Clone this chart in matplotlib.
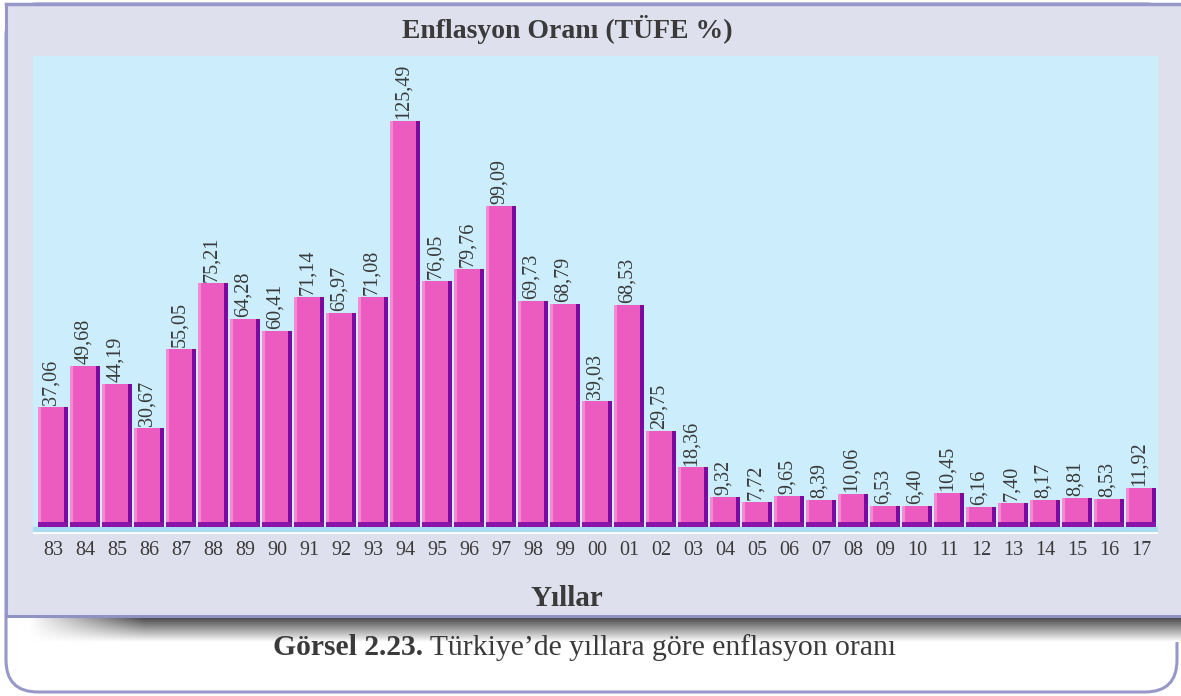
import numpy as np
import matplotlib
matplotlib.use("Agg")
import matplotlib.pyplot as plt
from matplotlib.patches import FancyBboxPatch, Rectangle

years = ["83", "84", "85", "86", "87", "88", "89", "90", "91", "92", "93", "94",
         "95", "96", "97", "98", "99", "00", "01", "02", "03", "04", "05", "06",
         "07", "08", "09", "10", "11", "12", "13", "14", "15", "16", "17"]
values = [37.06, 49.68, 44.19, 30.67, 55.05, 75.21, 64.28, 60.41, 71.14, 65.97,
          71.08, 125.49, 76.05, 79.76, 99.09, 69.73, 68.79, 39.03, 68.53, 29.75,
          18.36, 9.32, 7.72, 9.65, 8.39, 10.06, 6.53, 6.40, 10.45, 6.16, 7.40,
          8.17, 8.81, 8.53, 11.92]
title = "Enflasyon Oranı (TÜFE %)"
xlabel = "Yıllar"
caption_bold = "Görsel 2.23."
caption_rest = " Türkiye’de yıllara göre enflasyon oranı"

W, H = 1181, 696
SERIF = ["Liberation Serif", "DejaVu Serif"]
TXT = "#3a3a3a"

fig = plt.figure(figsize=(W / 100, H / 100), dpi=100)
fig.patch.set_facecolor("white")

bg = fig.add_axes([0, 0, 1, 1])
bg.set_xlim(0, W)
bg.set_ylim(H, 0)
bg.axis("off")

# outer rounded box
outer = FancyBboxPatch((6, 4), W - 10, H - 8, boxstyle="round,pad=0,rounding_size=32",
                       facecolor="white", edgecolor="#9598c8", lw=2.2, zorder=1)
bg.add_patch(outer)
# chart panel
bg.add_patch(Rectangle((6, 4), W - 6, 611, facecolor="#dfe0ed", edgecolor="none", zorder=2))
bg.plot([6, W], [4, 4], color="#9598c8", lw=2.5, zorder=3)
bg.plot([6, 6], [4, 615], color="#9598c8", lw=2.2, zorder=3)
bg.plot([6, W], [615.5, 615.5], color="#8f92c4", lw=2.2, zorder=4)

# shadow below chart panel
grad = np.linspace(0, 1, 64)[:, None]
shade = np.ones((64, 400, 4))
dark = 0.27
for c in range(3):
    shade[:, :, c] = dark + (1 - dark) * grad
alpha_x = np.clip(np.linspace(0, 1, 400) * 10, 0, 1)
for c in range(3):
    shade[:, :, c] = 1 - (1 - shade[:, :, c]) * alpha_x[None, :]
bg.imshow(shade, extent=(28, W, 642, 617), aspect="auto", zorder=3, interpolation="bilinear")

bg.text(567, 29, title, ha="center", va="center", fontsize=20, fontweight="bold",
        family=SERIF, color=TXT, zorder=5)
bg.text(567, 598, xlabel, ha="center", va="center", fontsize=21, fontweight="bold",
        family=SERIF, color=TXT, zorder=5)
t1 = bg.text(273, 661, caption_bold, ha="left", va="bottom", fontsize=21.3, fontweight="bold",
             family=SERIF, color=TXT, zorder=5)
bg.annotate(caption_rest, xy=(1, 0), xycoords=t1, ha="left", va="bottom", fontsize=21.3,
            family=SERIF, color=TXT, zorder=5)

# plot axes
L, R, T, B = 33, 1158, 56, 534
ax = fig.add_axes([L / W, 1 - B / H, (R - L) / W, (B - T) / H])
ax.set_facecolor("#cbedfc")
for s in ax.spines.values():
    s.set_visible(False)
x = np.arange(len(values))
ax.set_xlim(-0.625, len(values) - 1 + 0.53)
ax.set_ylim(-2.2, 145.5)

face_w = 0.80
side_w = 0.13
ax.bar(x - 0.47 + face_w / 2, values, width=face_w, color="#ec5cc0", edgecolor="none", zorder=2)
ax.bar(x - 0.47 + 0.05, values, width=0.10, color="#f48ad4", edgecolor="none", zorder=3)
ax.bar(x - 0.47 + face_w + side_w / 2, values, width=side_w, color="#7a0aa0",
       edgecolor="none", zorder=3)
ax.bar(x, [1.6] * len(values), width=0.94, color="#8a14a8", edgecolor="none", zorder=4)
ax.axhspan(-2.2, 0, color="#a9dcf2", zorder=1)
ax.axhline(-2.0, color="white", lw=2, zorder=5)

for xi, v in zip(x, values):
    ax.text(xi - 0.05, v + 0.6, f"{v:.2f}".replace(".", ","), rotation=90, ha="center",
            va="bottom", fontsize=14.5, family=SERIF, color=TXT, zorder=6)

ax.set_xticks(x)
ax.set_xticklabels(years, fontsize=14.5, family=SERIF, color=TXT)
ax.tick_params(axis="x", length=0, pad=5)
ax.set_yticks([])

fig.savefig("out.png", dpi=100, facecolor=fig.get_facecolor())
